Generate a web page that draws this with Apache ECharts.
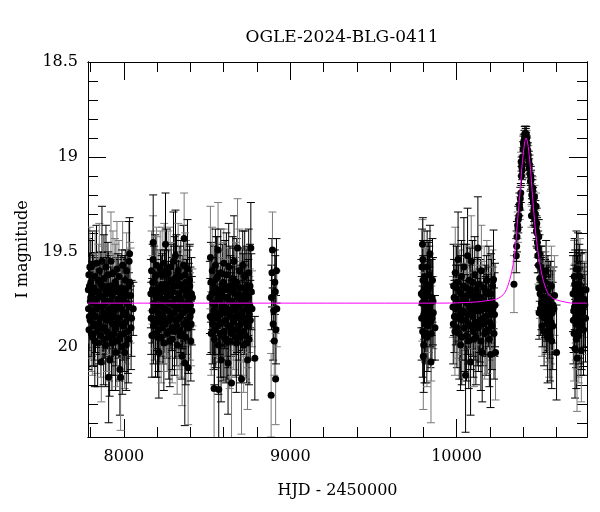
<!DOCTYPE html>
<html><head><meta charset="utf-8">
<script src="https://cdn.jsdelivr.net/npm/echarts@6/dist/echarts.min.js"></script>
<style>html,body{margin:0;padding:0;background:#fff}#c{width:600px;height:512px}</style>
</head><body><div id="c"></div>
<script>
var titleText = 'OGLE-2024-BLG-0411';
var xName = 'HJD - 2450000';
var yName = 'I magnitude';
var xMajorTicks = [8000, 9000, 10000];
var xMinorTicks = [7800, 8200, 8400, 8600, 8800, 9200, 9400, 9600, 9800, 10200, 10400, 10600];
var yMajorTicks = [18.5, 19, 19.5, 20];
var yMinorTicks = [18.6,18.7,18.8,18.9,19.1,19.2,19.3,19.4,19.6,19.7,19.8,19.9,20.1,20.2,20.3,20.4];

// [HJD-2450000, I mag, error]
var season1 = [[7786,19.70,0.17],[7789,19.62,0.19],[7792,19.84,0.18],[7795,19.58,0.21],[7798,19.76,0.16],[7801,19.66,0.22],[7804,19.93,0.20],[7808,19.72,0.15],[7811,19.57,0.18],[7815,19.81,0.23],[7819,19.69,0.17],[7823,19.88,0.19],[7827,19.63,0.24],[7831,19.75,0.16],[7835,19.56,0.20],[7840,19.92,0.22],[7844,19.71,0.18],[7848,19.79,0.15],[7852,19.60,0.25],[7857,19.85,0.19],[7861,19.67,0.17],[7864,20.08,0.21],[7868,19.55,0.29],[7872,19.74,0.18],[7876,19.82,0.20],[7880,19.64,0.23],[7884,19.90,0.16],[7888,19.70,0.19],[7892,19.58,0.22],[7896,19.86,0.18],[7900,19.76,0.25],[7904,19.62,0.17],[7908,20.16,0.24],[7912,19.80,0.20],[7914,20.07,0.19],[7918,19.68,0.16],[7922,19.55,0.26],[7926,19.94,0.21],[7930,19.73,0.18],[7934,19.61,0.22],[7938,19.84,0.17],[7942,19.78,0.19],[7946,19.66,0.23],[7950,20.03,0.20],[7954,19.71,0.18],[7958,19.59,0.25],[7962,19.87,0.16],[7966,19.75,0.21],[7970,19.63,0.19],[7974,19.96,0.22],[7976,20.12,0.24],[7980,20.16,0.28],[7984,19.80,0.17],[7988,19.69,0.20],[7992,19.57,0.23],[7996,19.89,0.18],[8000,19.74,0.21],[8004,20.03,0.19],[8008,19.65,0.16],[8012,19.82,0.24],[8016,19.60,0.20],[8020,19.77,0.18],[8024,19.92,0.22],[8028,19.68,0.17],[8031,19.55,0.21],[8034,19.51,0.19],[8040,19.73,0.25],[8046,19.85,0.20],[8056,19.80,0.14]];
var season1b = [[7787,19.80,0.18],[7790,19.91,0.21],[7793,19.68,0.17],[7797,19.86,0.20],[7800,19.74,0.19],[7806,19.83,0.22],[7810,19.95,0.20],[7813,19.69,0.18],[7817,19.89,0.21],[7821,19.77,0.17],[7825,19.97,0.24],[7829,19.84,0.19],[7833,19.71,0.20],[7838,19.80,0.18],[7842,19.98,0.23],[7846,19.65,0.19],[7850,19.88,0.21],[7855,19.73,0.17],[7859,19.94,0.22],[7866,19.79,0.20],[7870,19.90,0.19],[7874,19.68,0.21],[7878,19.96,0.24],[7882,19.77,0.18],[7886,19.83,0.20],[7890,19.99,0.22],[7894,19.72,0.19],[7898,19.92,0.21],[7902,19.84,0.17],[7906,19.70,0.20],[7910,19.95,0.23],[7916,19.86,0.19],[7920,19.76,0.18],[7924,19.82,0.22],[7928,19.98,0.25],[7932,19.88,0.20],[7936,19.70,0.19],[7940,19.93,0.22],[7944,19.81,0.18],[7948,19.67,0.21],[7952,19.90,0.20],[7956,19.79,0.19],[7960,19.97,0.24],[7964,19.69,0.18],[7968,19.85,0.21],[7972,19.78,0.19],[7978,19.94,0.23],[7982,19.72,0.20],[7986,19.88,0.18],[7990,20.00,0.25],[7994,19.76,0.19],[7998,19.83,0.21],[8002,19.93,0.20],[8006,19.70,0.18],[8010,19.87,0.22],[8014,19.99,0.24],[8018,19.73,0.19],[8022,19.84,0.20],[8026,19.96,0.23],[8030,19.79,0.18],[8036,19.66,0.21],[8043,19.90,0.22]];
var season2 = [[8162,19.72,0.18],[8166,19.60,0.21],[8170,19.81,0.17],[8173,19.66,0.20],[8175,19.54,0.23],[8176,19.45,0.25],[8180,19.77,0.16],[8184,19.88,0.19],[8188,19.63,0.22],[8192,19.74,0.18],[8196,19.57,0.20],[8199,19.85,0.17],[8202,19.95,0.21],[8206,19.69,0.19],[8210,20.03,0.24],[8214,19.78,0.16],[8218,19.59,0.20],[8222,19.83,0.22],[8226,19.70,0.18],[8230,19.62,0.25],[8234,19.90,0.19],[8238,19.75,0.17],[8242,19.56,0.21],[8246,19.80,0.23],[8250,19.46,0.27],[8254,19.68,0.18],[8258,19.86,0.20],[8262,19.73,0.16],[8266,19.61,0.22],[8270,19.92,0.25],[8274,19.77,0.19],[8278,19.58,0.21],[8282,19.84,0.17],[8286,19.66,0.20],[8290,19.96,0.23],[8294,19.71,0.18],[8298,19.55,0.26],[8302,19.82,0.19],[8306,19.64,0.22],[8310,19.52,0.24],[8314,19.79,0.17],[8318,19.89,0.21],[8322,19.68,0.18],[8326,19.60,0.25],[8330,19.85,0.20],[8334,19.74,0.16],[8338,19.94,0.22],[8342,19.63,0.19],[8346,19.78,0.23],[8350,20.05,0.26],[8354,19.70,0.18],[8358,19.57,0.21],[8362,19.43,0.24],[8366,20.085,0.33],[8370,19.81,0.19],[8374,19.66,0.22],[8378,19.87,0.17],[8382,19.59,0.26],[8386,20.11,0.30],[8390,19.76,0.20],[8394,19.65,0.18],[8398,19.84,0.23],[8402,19.97,0.21],[8406,19.72,0.19],[8412,19.74,0.15]];
var season2b = [[8164,19.85,0.19],[8168,19.94,0.22],[8172,19.70,0.18],[8178,19.89,0.20],[8182,19.66,0.19],[8186,19.80,0.21],[8190,19.93,0.23],[8194,19.72,0.18],[8198,19.62,0.20],[8204,19.82,0.19],[8208,19.91,0.22],[8212,19.74,0.18],[8216,19.87,0.21],[8220,19.68,0.19],[8224,19.95,0.24],[8228,19.79,0.18],[8232,19.71,0.20],[8236,19.84,0.19],[8240,19.98,0.25],[8244,19.67,0.18],[8248,19.88,0.21],[8252,19.76,0.19],[8256,19.60,0.22],[8260,19.93,0.20],[8264,19.81,0.18],[8268,19.70,0.21],[8272,19.86,0.19],[8276,19.97,0.24],[8280,19.73,0.18],[8284,19.65,0.20],[8288,19.83,0.19],[8292,19.90,0.22],[8296,19.78,0.18],[8300,19.68,0.21],[8304,19.92,0.23],[8308,19.75,0.19],[8312,19.86,0.20],[8316,19.63,0.22],[8320,19.99,0.26],[8324,19.80,0.19],[8328,19.72,0.18],[8332,19.91,0.21],[8336,19.67,0.20],[8340,19.84,0.19],[8344,19.76,0.22],[8348,19.93,0.24],[8352,19.82,0.19],[8356,19.69,0.20],[8360,19.88,0.21],[8364,19.78,0.19],[8368,19.62,0.22],[8372,19.95,0.25],[8376,19.73,0.19],[8380,19.86,0.20],[8384,19.70,0.21],[8388,19.90,0.24],[8392,19.80,0.19],[8396,19.68,0.22],[8400,19.78,0.20],[8404,19.88,0.22],[8408,19.81,0.18]];
var season3 = [[8517,19.74,0.19],[8520,19.53,0.27],[8523,19.66,0.21],[8527,19.85,0.18],[8531,19.60,0.23],[8535,19.77,0.17],[8539,19.92,0.20],[8542,20.22,0.30],[8546,19.69,0.22],[8550,19.57,0.19],[8554,19.82,0.24],[8558,19.71,0.18],[8562,19.63,0.21],[8566,19.49,0.25],[8570,20.225,0.28],[8574,19.88,0.20],[8578,19.75,0.17],[8582,19.61,0.23],[8584,20.07,0.22],[8588,19.80,0.19],[8592,19.67,0.21],[8596,19.94,0.24],[8600,19.56,0.18],[8604,19.79,0.20],[8608,19.70,0.26],[8612,19.86,0.19],[8616,19.62,0.22],[8620,19.97,0.20],[8624,19.74,0.17],[8626,20.085,0.27],[8630,19.58,0.23],[8634,19.83,0.19],[8638,19.68,0.21],[8642,19.90,0.25],[8647,20.19,0.30],[8650,19.76,0.18],[8654,19.64,0.22],[8658,19.87,0.20],[8662,19.55,0.24],[8666,19.72,0.19],[8670,19.95,0.21],[8674,19.81,0.17],[8678,19.66,0.23],[8683,19.48,0.26],[8686,19.78,0.20],[8690,19.89,0.18],[8694,19.60,0.22],[8698,19.73,0.25],[8702,19.84,0.19],[8707,20.17,0.29],[8710,19.69,0.21],[8714,19.57,0.18],[8718,19.92,0.23],[8722,19.75,0.20],[8726,19.63,0.24],[8730,19.86,0.19],[8734,19.71,0.22],[8738,19.98,0.21],[8743,20.07,0.26],[8746,19.79,0.18],[8750,19.61,0.23],[8754,19.83,0.20],[8758,19.68,0.22],[8763,19.48,0.24],[8770,19.80,0.20],[8787,20.06,0.22]];
var season3b = [[8519,19.84,0.20],[8525,19.93,0.22],[8529,19.72,0.19],[8533,19.88,0.21],[8537,19.66,0.20],[8541,19.81,0.23],[8544,19.96,0.24],[8548,19.78,0.19],[8552,19.90,0.21],[8556,19.64,0.22],[8560,19.85,0.20],[8564,19.75,0.19],[8568,19.99,0.26],[8572,19.70,0.20],[8576,19.83,0.21],[8580,19.93,0.23],[8586,19.72,0.19],[8590,19.87,0.20],[8594,19.78,0.22],[8598,19.66,0.21],[8602,19.92,0.24],[8606,19.82,0.19],[8610,19.74,0.20],[8614,19.96,0.23],[8618,19.80,0.19],[8622,19.69,0.21],[8628,19.89,0.22],[8632,19.76,0.20],[8636,19.97,0.25],[8640,19.71,0.19],[8644,19.84,0.21],[8648,19.93,0.23],[8652,19.80,0.19],[8656,19.70,0.22],[8660,19.91,0.21],[8664,19.78,0.20],[8668,19.85,0.19],[8672,19.67,0.22],[8676,19.98,0.26],[8680,19.83,0.20],[8684,19.74,0.19],[8688,19.92,0.23],[8692,19.79,0.20],[8696,19.69,0.21],[8700,19.95,0.24],[8704,19.76,0.19],[8708,19.87,0.21],[8712,19.82,0.20],[8716,19.73,0.22],[8720,19.99,0.25],[8724,19.85,0.19],[8728,19.77,0.20],[8732,19.94,0.23],[8736,19.80,0.19],[8740,19.68,0.21],[8744,19.89,0.22],[8748,19.74,0.20],[8752,19.96,0.24],[8756,19.78,0.19],[8760,19.86,0.21],[8766,19.71,0.20]];
var season4 = [[8885,20.255,0.22],[8887,19.74,0.17],[8890,19.61,0.18],[8893,19.49,0.20],[8897,19.88,0.19],[8900,19.81,0.16],[8904,19.97,0.18],[8907,19.66,0.17],[8910,19.71,0.19],[8912,20.17,0.24],[8914,19.91,0.18],[8917,19.60,0.17],[8919,19.80,0.20]];
var season5 = [[9788,19.72,0.18],[9792,19.58,0.20],[9795,19.46,0.13],[9797,19.54,0.22],[9799,19.71,0.19],[9800,20.05,0.28],[9802,19.99,0.25],[9805,19.75,0.21],[9808,19.63,0.24],[9811,19.88,0.20],[9814,19.80,0.17],[9817,19.67,0.23],[9820,19.93,0.26],[9823,19.58,0.19],[9826,19.84,0.22],[9830,19.70,0.25],[9834,19.62,0.18],[9838,19.79,0.21],[9840,19.51,0.15],[9843,19.87,0.24],[9846,20.08,0.32],[9850,19.74,0.20],[9855,19.65,0.22],[9860,19.82,0.19],[9870,19.90,0.17]];
var season5b = [[9790,19.85,0.22],[9794,19.77,0.20],[9796,19.92,0.24],[9798,19.65,0.21],[9803,19.83,0.22],[9807,19.94,0.25],[9810,19.76,0.21],[9813,19.70,0.22],[9816,19.86,0.23],[9819,19.78,0.21],[9822,19.95,0.26],[9825,19.73,0.21],[9828,19.89,0.24],[9832,19.81,0.22],[9836,19.68,0.21],[9842,19.77,0.23],[9848,19.93,0.25],[9852,19.85,0.22],[9858,19.76,0.23]];
var season6 = [[9978,19.79,0.16],[9982,19.68,0.22],[9987,19.84,0.19],[9992,19.61,0.24],[9997,19.75,0.18],[10002,19.90,0.21],[10006,19.66,0.20],[10009,19.54,0.25],[10014,19.80,0.18],[10019,19.71,0.22],[10024,19.99,0.24],[10029,19.63,0.19],[10034,19.86,0.21],[10039,19.74,0.17],[10044,19.58,0.26],[10049,19.82,0.20],[10054,20.15,0.30],[10058,19.69,0.23],[10062,19.77,0.19],[10066,19.52,0.25],[10071,19.88,0.21],[10076,19.65,0.18],[10080,19.79,0.22],[10084,20.08,0.28],[10088,19.55,0.24],[10093,19.73,0.19],[10098,19.84,0.21],[10104,19.96,0.25],[10109,19.62,0.20],[10114,19.78,0.18],[10119,19.70,0.23],[10124,19.89,0.21],[10128,19.48,0.27],[10133,19.67,0.19],[10138,19.81,0.22],[10144,19.74,0.20],[10149,19.60,0.24],[10154,20.03,0.26],[10160,19.85,0.19],[10166,19.69,0.22],[10172,19.77,0.20],[10177,19.92,0.23],[10182,19.65,0.21],[10188,19.80,0.18],[10194,19.71,0.24],[10199,19.87,0.20],[10204,20.04,0.28],[10210,19.76,0.22],[10216,19.68,0.19],[10222,19.645,0.26],[10228,19.83,0.22],[10234,20.03,0.25]];
var season6b = [[9980,19.88,0.21],[9985,19.74,0.20],[9990,19.92,0.23],[9995,19.80,0.19],[10000,19.69,0.22],[10004,19.85,0.21],[10011,19.77,0.20],[10016,19.93,0.24],[10021,19.83,0.21],[10026,19.72,0.20],[10031,19.95,0.25],[10036,19.81,0.20],[10041,19.68,0.22],[10046,19.90,0.23],[10051,19.76,0.20],[10056,19.86,0.21],[10060,19.94,0.24],[10064,19.73,0.20],[10068,19.83,0.21],[10073,19.97,0.25],[10078,19.79,0.20],[10082,19.70,0.22],[10086,19.89,0.23],[10091,19.81,0.20],[10096,19.66,0.22],[10101,19.92,0.24],[10106,19.76,0.21],[10111,19.87,0.20],[10116,19.95,0.25],[10121,19.81,0.21],[10126,19.73,0.20],[10131,19.90,0.23],[10136,19.78,0.21],[10141,19.86,0.22],[10146,19.97,0.26],[10152,19.75,0.20],[10157,19.88,0.22],[10163,19.80,0.21],[10169,19.93,0.24],[10175,19.84,0.21],[10180,19.72,0.20],[10186,19.91,0.23],[10191,19.79,0.21],[10197,19.96,0.25],[10202,19.83,0.22],[10207,19.72,0.21],[10213,19.89,0.23],[10219,19.80,0.22],[10225,19.93,0.24],[10231,19.78,0.22]];
var season7 = [[10345,19.67,0.15],[10359,19.52,0.09],[10363,19.42,0.08],[10367,19.36,0.07],[10371,19.33,0.07],[10375,19.31,0.06],[10380,19.27,0.06],[10383,19.22,0.06],[10386,19.19,0.05],[10388,19.025,0.05],[10391,19.05,0.05],[10394,19.07,0.05],[10397,19.00,0.05],[10400,18.96,0.04],[10402,18.93,0.04],[10405,18.95,0.04],[10408,18.90,0.04],[10411,18.92,0.04],[10414,18.875,0.04],[10416,18.89,0.04],[10418,18.91,0.04],[10421,18.90,0.04],[10424,18.94,0.04],[10428,18.965,0.04],[10431,18.99,0.05],[10434,19.02,0.05],[10438,19.04,0.05],[10441,19.09,0.05],[10444,19.13,0.05],[10448,19.12,0.05],[10450,19.31,0.06],[10453,19.16,0.06],[10456,19.18,0.06],[10458,19.165,0.06],[10461,19.24,0.06],[10464,19.29,0.07],[10468,19.21,0.06],[10471,19.33,0.07],[10474,19.30,0.07],[10478,19.26,0.07],[10480,19.39,0.08],[10482,19.35,0.08],[10486,19.45,0.08],[10490,19.48,0.09],[10494,19.42,0.09],[10494,19.69,0.12],[10496,19.82,0.14],[10498,19.51,0.10],[10502,19.72,0.13],[10506,19.58,0.11],[10510,19.77,0.14],[10514,19.89,0.16],[10518,19.66,0.13],[10520,19.63,0.13],[10524,19.81,0.15],[10528,19.74,0.15],[10532,19.70,0.16],[10536,19.85,0.19],[10538,19.60,0.16],[10542,19.77,0.20],[10545,19.88,0.24],[10549,19.70,0.18],[10553,19.80,0.22],[10557,19.91,0.25],[10560,19.84,0.22],[10565,19.75,0.20],[10570,19.68,0.21],[10575,19.82,0.22],[10580,19.78,0.20],[10589,19.73,0.21],[10601,20.03,0.25]];
var season7b = [[10361,19.47,0.08],[10369,19.38,0.07],[10378,19.25,0.06],[10390,19.10,0.05],[10396,19.04,0.05],[10404,18.92,0.04],[10410,18.88,0.04],[10413,18.91,0.04],[10419,18.88,0.04],[10423,18.93,0.04],[10426,18.97,0.04],[10436,19.06,0.05],[10446,19.10,0.05],[10452,19.20,0.06],[10460,19.22,0.06],[10466,19.27,0.07],[10476,19.36,0.08],[10484,19.40,0.08],[10488,19.52,0.09],[10492,19.57,0.10],[10500,19.64,0.12],[10504,19.80,0.14],[10508,19.69,0.13],[10512,19.60,0.13],[10516,19.84,0.16],[10522,19.74,0.15],[10526,19.92,0.18],[10530,19.79,0.16],[10534,19.66,0.16],[10540,19.83,0.20],[10547,19.95,0.24],[10551,19.86,0.22],[10555,19.76,0.21],[10562,19.94,0.24],[10568,19.87,0.22],[10572,19.97,0.25],[10578,19.89,0.23],[10585,19.80,0.22]];
var season8 = [[10700,19.72,0.20],[10704,19.81,0.22],[10707,19.63,0.19],[10710,19.67,0.24],[10712,20.01,0.26],[10715,19.77,0.21],[10718,19.88,0.23],[10721,19.59,0.20],[10724,20.06,0.28],[10727,19.74,0.22],[10730,19.59,0.19],[10733,19.92,0.24],[10736,19.70,0.21],[10739,19.83,0.23],[10742,19.63,0.20],[10745,19.77,0.22],[10748,19.90,0.25],[10750,20.02,0.27],[10755,19.70,0.21],[10760,19.80,0.22],[10768,19.75,0.20],[10775,19.85,0.23]];
var season8b = [[10702,19.86,0.23],[10706,19.93,0.25],[10709,19.79,0.22],[10713,19.70,0.21],[10717,19.84,0.23],[10720,19.96,0.26],[10723,19.73,0.21],[10726,19.88,0.24],[10729,19.81,0.22],[10732,19.76,0.21],[10735,19.94,0.25],[10738,19.67,0.21],[10741,19.86,0.23],[10744,19.79,0.22],[10747,19.72,0.21],[10752,19.88,0.24],[10757,19.82,0.22],[10763,19.91,0.24],[10771,19.78,0.22],[10778,19.70,0.21]];

// microlensing model curve
var modelHjd = [7784, 9000, 9900, 10100, 10200, 10250, 10290, 10320, 10340, 10355, 10368, 10380, 10392, 10402, 10410, 10418, 10426, 10434, 10444, 10456, 10468, 10482, 10498, 10518, 10545, 10580, 10640, 10700, 10784];
var modelMag = [19.77, 19.77, 19.77, 19.765, 19.755, 19.745, 19.715, 19.645, 19.565, 19.46, 19.32, 19.20, 19.06, 18.975, 18.92, 18.90, 18.92, 18.97, 19.06, 19.20, 19.33, 19.45, 19.55, 19.64, 19.71, 19.745, 19.762, 19.77, 19.77];

var obs = season1.concat(season1b, season2, season2b, season3, season3b, season4, season5, season5b, season6, season6b, season7, season7b, season8, season8b);
var model = modelHjd.map(function (h, i) { return [h, modelMag[i]]; });

var FONT = 'DejaVu Serif';
var X_MIN = 7784, X_MAX = 10784, Y_MIN = 18.5, Y_MAX = 20.475;

function xAxisDef(pos, ticks, len, labels) {
  return {
    type: 'value', position: pos, min: X_MIN, max: X_MAX,
    splitLine: { show: false },
    axisLine: { show: true, onZero: false, lineStyle: { color: '#000', width: 1 } },
    axisTick: { show: true, inside: true, length: len, customValues: ticks, lineStyle: { color: '#000', width: 1 } },
    axisLabel: labels ? { show: true, customValues: ticks, margin: 12, color: '#000', fontFamily: FONT, fontSize: 16, formatter: function (v) { return String(v); } } : { show: false },
    name: labels ? xName : '', nameLocation: 'middle', nameGap: 46,
    nameTextStyle: { color: '#000', fontFamily: FONT, fontSize: 16 }
  };
}
function yAxisDef(pos, ticks, len, labels) {
  return {
    type: 'value', position: pos, inverse: true, min: Y_MIN, max: Y_MAX,
    splitLine: { show: false },
    axisLine: { show: true, onZero: false, lineStyle: { color: '#000', width: 1 } },
    axisTick: { show: true, inside: true, length: len, customValues: ticks, lineStyle: { color: '#000', width: 1 } },
    axisLabel: labels ? { show: true, customValues: ticks, margin: 10, color: '#000', fontFamily: FONT, fontSize: 16, formatter: function (v) { return String(v); } } : { show: false },
    name: labels ? yName : '', nameLocation: 'middle', nameGap: 57,
    nameTextStyle: { color: '#000', fontFamily: FONT, fontSize: 16 }
  };
}

function renderErr(params, api) {
  var x = api.value(0), m = api.value(1), e = api.value(2);
  var p1 = api.coord([x, m - e]), p2 = api.coord([x, m + e]);
  var col = (params.dataIndex % 3 === 0) ? '#7a7a7a' : '#000000';
  var w = 4;
  var st = { stroke: col, lineWidth: 1 };
  return { type: 'group', children: [
    { type: 'line', shape: { x1: p1[0], y1: p1[1], x2: p2[0], y2: p2[1] }, style: st },
    { type: 'line', shape: { x1: p1[0] - w, y1: p1[1], x2: p1[0] + w, y2: p1[1] }, style: st },
    { type: 'line', shape: { x1: p2[0] - w, y1: p2[1], x2: p2[0] + w, y2: p2[1] }, style: st }
  ]};
}

var chart = echarts.init(document.getElementById('c'), null, { renderer: 'canvas' });
chart.setOption({
  backgroundColor: '#fff',
  animation: false,
  title: {
    text: titleText, left: 337, top: 24, textAlign: 'center',
    textStyle: { color: '#000', fontFamily: FONT, fontSize: 17, fontWeight: 'normal' }
  },
  grid: { left: 88, right: 13, top: 62, bottom: 75 },
  xAxis: [
    xAxisDef('bottom', xMajorTicks, 18, true),
    xAxisDef('bottom', xMinorTicks, 10, false),
    xAxisDef('top', xMajorTicks, 18, false),
    xAxisDef('top', xMinorTicks, 10, false)
  ],
  yAxis: [
    yAxisDef('left', yMajorTicks, 18, true),
    yAxisDef('left', yMinorTicks, 10, false),
    yAxisDef('right', yMajorTicks, 18, false),
    yAxisDef('right', yMinorTicks, 10, false)
  ],
  series: [
    { type: 'custom', name: 'errors', renderItem: renderErr, data: obs, clip: true,
      encode: { x: 0, y: 1 }, xAxisIndex: 0, yAxisIndex: 0, z: 2, silent: true },
    { type: 'scatter', name: 'OGLE', data: obs.map(function (d) { return [d[0], d[1]]; }),
      symbol: 'circle', symbolSize: 7, itemStyle: { color: '#000', opacity: 1 },
      xAxisIndex: 0, yAxisIndex: 0, z: 3, silent: true, clip: true },
    { type: 'line', name: 'model', data: model, showSymbol: false, smooth: 0.3,
      lineStyle: { color: '#ff00ff', width: 1 }, xAxisIndex: 0, yAxisIndex: 0, z: 4, silent: true }
  ]
});
</script></body></html>
